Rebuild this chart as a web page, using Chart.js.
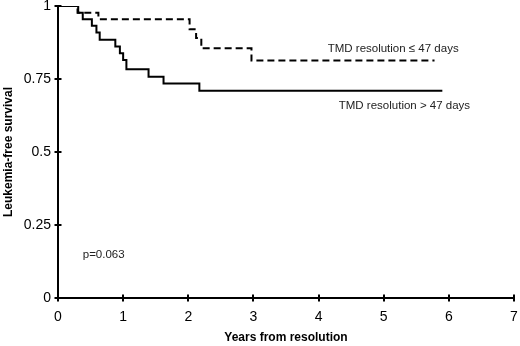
<!DOCTYPE html>
<html>
<head>
<meta charset="utf-8">
<script src="https://cdn.jsdelivr.net/npm/chart.js@4.4.1/dist/chart.umd.min.js"></script>
<style>
  html, body { margin: 0; padding: 0; background: #fff; }
  #wrap { width: 520px; height: 346px; }
</style>
</head>
<body>
<div id="wrap"><canvas id="km-chart"></canvas></div>
<script>
// Kaplan-Meier steps (years, survival after the drop)
const shortTimes = [0, 0.30, 0.62, 2.02, 2.12, 2.20, 2.97, 5.78];
const shortSurv  = [1, 0.977, 0.955, 0.92, 0.89, 0.855, 0.813, 0.813];

const longTimes = [0, 0.31, 0.38, 0.52, 0.59, 0.64, 0.88, 0.95, 1.00, 1.05, 1.39, 1.62, 2.17, 5.90];
const longSurv  = [1, 0.977, 0.955, 0.932, 0.909, 0.884, 0.861, 0.838, 0.815, 0.783, 0.758, 0.735, 0.71, 0.71];

const xTicks = [0, 1, 2, 3, 4, 5, 6, 7];
const yTicks = [0, 0.25, 0.5, 0.75, 1];
const yTickLabels = ['0', '0.25', '0.5', '0.75', '1'];

const shortLabel = 'TMD resolution \u2264 47 days';
const longLabel = 'TMD resolution > 47 days';
const pText = 'p=0.063';

function toPoints(xs, ys) {
    return xs.map((x, i) => ({x: x, y: ys[i]}));
}

// tick marks that cross the axis line, like the original
const crossTicks = {
    id: 'crossTicks',
    afterDraw(chart) {
        const ctx = chart.ctx;
        const xs = chart.scales.x, ys = chart.scales.y;
        const area = chart.chartArea;
        ctx.save();
        ctx.strokeStyle = '#000';
        ctx.lineWidth = 2;
        xTicks.forEach(v => {
            const px = Math.round(xs.getPixelForValue(v));
            ctx.beginPath();
            ctx.moveTo(px, area.bottom - 3.5);
            ctx.lineTo(px, area.bottom + 3.5);
            ctx.stroke();
        });
        yTicks.forEach(v => {
            const py = Math.round(ys.getPixelForValue(v));
            ctx.beginPath();
            ctx.moveTo(area.left - 3.5, py);
            ctx.lineTo(area.left + 3.5, py);
            ctx.stroke();
        });
        ctx.restore();
    }
};

// curve labels and p-value, placed in data units
const notes = {
    id: 'notes',
    afterDraw(chart) {
        const ctx = chart.ctx;
        const xs = chart.scales.x, ys = chart.scales.y;
        ctx.save();
        ctx.fillStyle = '#222';
        ctx.font = '11.5px "Liberation Sans", Arial, sans-serif';
        ctx.textBaseline = 'middle';
        ctx.textAlign = 'left';
        ctx.fillText(shortLabel, xs.getPixelForValue(4.14), ys.getPixelForValue(0.853));
        ctx.fillText(longLabel, xs.getPixelForValue(4.31), ys.getPixelForValue(0.657));
        ctx.fillText(pText, xs.getPixelForValue(0.38), ys.getPixelForValue(0.147));
        ctx.restore();
    }
};

const kmData = {
    datasets: [
        {
            label: shortLabel,
            data: toPoints(shortTimes, shortSurv),
            stepped: true,
            borderColor: '#000',
            borderWidth: 2,
            borderDash: [7, 4],
            pointRadius: 0,
            fill: false
        },
        {
            label: longLabel,
            data: toPoints(longTimes, longSurv),
            stepped: true,
            borderColor: '#000',
            borderWidth: 2,
            pointRadius: 0,
            fill: false
        }
    ]
};

const kmConfig = {
    type: 'line',
    data: kmData,
    plugins: [crossTicks, notes],
    options: {
        responsive: true,
        maintainAspectRatio: false,
        animation: false,
        layout: { padding: { top: 6, right: 6, left: 0, bottom: 0 } },
        plugins: {
            legend: { display: false },
            tooltip: { enabled: false }
        },
        scales: {
            x: {
                type: 'linear',
                min: 0,
                max: 7,
                afterBuildTicks: s => { s.ticks = xTicks.map(v => ({value: v})); },
                afterFit: s => { s.height = 48; s.paddingLeft = 0; s.paddingRight = 0; },
                grid: { display: false, drawTicks: false },
                border: { display: true, color: '#000', width: 2 },
                ticks: {
                    color: '#000',
                    padding: 11,
                    callback: v => String(v),
                    font: { family: '"Liberation Sans", Arial, sans-serif', size: 14 }
                },
                title: {
                    display: true,
                    text: 'Years from resolution',
                    color: '#000',
                    padding: { top: 0, bottom: 1 },
                    font: { family: '"Liberation Sans", Arial, sans-serif', size: 12, weight: 'bold' }
                }
            },
            y: {
                min: 0,
                max: 1,
                afterBuildTicks: s => { s.ticks = yTicks.map(v => ({value: v})); },
                afterFit: s => { s.width = 58; s.paddingTop = 0; s.paddingBottom = 0; },
                grid: { display: false, drawTicks: false },
                border: { display: true, color: '#000', width: 2 },
                ticks: {
                    color: '#000',
                    padding: 7,
                    callback: v => yTickLabels[yTicks.indexOf(v)],
                    font: { family: '"Liberation Sans", Arial, sans-serif', size: 14 }
                },
                title: {
                    display: true,
                    text: 'Leukemia-free survival',
                    color: '#000',
                    padding: { top: 1.5, bottom: 0 },
                    font: { family: '"Liberation Sans", Arial, sans-serif', size: 12, weight: 'bold' }
                }
            }
        }
    }
};

const kmChart = new Chart(document.getElementById('km-chart'), kmConfig);
</script>
</body>
</html>
